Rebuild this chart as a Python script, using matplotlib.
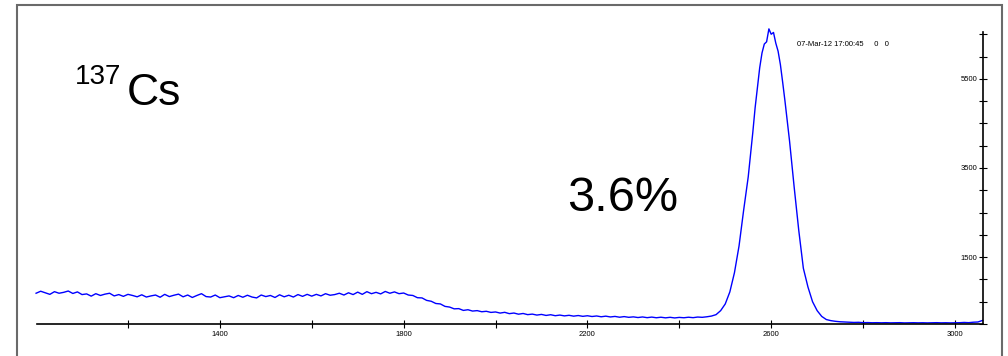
import numpy as np
import matplotlib
matplotlib.use("Agg")
import matplotlib.pyplot as plt
from matplotlib.patches import Rectangle

# channel (energy) axis: 10-unit steps, 5-unit steps across the peak top
channels_low = np.arange(1000, 2560, 10)
channels_peak = np.arange(2560, 2645, 5)
channels_high = np.arange(2650, 3061, 10)

counts_low = [
    # 1000-1100
    690, 735, 700, 665, 725, 690, 710, 740, 685, 720, 660,
    # 1110-1200
    675, 625, 680, 640, 670, 690, 630, 660, 620, 665,
    # 1210-1400
    640, 610, 655, 605, 630, 650, 600, 665, 615, 645, 670, 610, 650, 595, 640, 680, 615, 605, 650, 590,
    # 1410-1600
    610, 630, 590, 640, 600, 645, 605, 585, 650, 615, 640, 595, 655, 610, 645, 605, 660, 620, 665, 625,
    # 1610-1800
    665, 630, 680, 645, 660, 690, 650, 700, 660, 715, 665, 725, 680, 710, 675, 730, 690, 720, 680, 695,
    # 1810-2000
    650, 640, 590, 585, 530, 510, 460, 450, 395, 380, 340, 345, 305, 320, 290, 300, 275, 285, 260, 270,
    # 2010-2200
    245, 262, 232, 246, 220, 236, 210, 222, 200, 215, 192, 208, 186, 200, 182, 195, 176, 190, 172, 185,
    # 2210-2400
    168, 180, 162, 176, 158, 170, 152, 166, 150, 160, 145, 158, 142, 155, 140, 152, 138, 150, 136, 148,
    # 2410-2550
    140, 152, 142, 156, 150, 162, 178, 210, 300, 450, 720, 1150, 1750, 2550, 3300,
]

counts_peak = [
    # 2560-2640 (5-unit steps)
    4300, 4850, 5300, 5750, 6080, 6280, 6330, 6620, 6500, 6540, 6300, 6120, 5820, 5420, 5000, 4550, 4100,
]

counts_high = [
    # 2650-2750
    3070, 2100, 1250, 830, 500, 300, 170, 100, 75, 60, 50,
    # 2760-3060
    45, 40, 35, 38, 30, 32, 28, 30, 27, 30, 26, 28, 30, 25, 27, 29, 26, 28, 25, 27, 30, 26, 28, 25, 27, 29, 35, 30, 40, 45, 80,
]

channels = np.concatenate([channels_low, channels_peak, channels_high])
counts = counts_low + counts_peak + counts_high

x_major = [1400, 1800, 2200, 2600, 3000]
x_minor = [1200, 1600, 2000, 2400, 2800]
y_ticks = list(range(0, 6501, 500))
y_labeled = [1500, 3500, 5500]

W, H = 1008, 356
plt.rcParams['font.family'] = ['Liberation Sans', 'DejaVu Sans']
fig = plt.figure(figsize=(W / 100, H / 100), dpi=100)
fig.patch.set_facecolor("white")

# outer frame
fig.patches.append(Rectangle((17 / W, -0.05), (1002 - 17) / W, (H - 5) / H + 0.05,
                             transform=fig.transFigure, fill=False,
                             edgecolor="#6a6a6a", linewidth=1.5))

ax_left, ax_right = 37 / W, 983 / W
ax_bottom = (H - 324) / H
ax_top = (H - 32) / H
ax = fig.add_axes([ax_left, ax_bottom, ax_right - ax_left, ax_top - ax_bottom])
ax.set_facecolor("none")

ax.plot(channels, counts, color="#0000ff", linewidth=1.0, clip_on=False)

ax.set_xlim(1002, 3061)
ax.set_ylim(0, 6550)

for s in ["top", "right"]:
    ax.spines[s].set_visible(False)
ax.spines["left"].set_position(("axes", 1.0))
ax.spines["left"].set_linewidth(1.2)
ax.spines["bottom"].set_linewidth(1.2)

ax.set_xticks(x_major)
ax.set_xticks(x_minor, minor=True)
ax.set_xticklabels([str(v) for v in x_major])
ax.tick_params(axis="x", which="both", direction="inout", length=6, width=0.8,
               labelsize=5.5, pad=2)

ax.set_yticks(y_ticks)
ax.set_yticklabels([str(v) if v in y_labeled else "" for v in y_ticks])
ax.tick_params(axis="y", which="both", direction="inout", length=6, width=0.8,
               labelsize=5.5, pad=1)

fig.text(75 / W, 1 - 84 / H, "137", fontsize=20, color="black", ha="left", va="baseline")
fig.text(127 / W, 1 - 105 / H, "Cs", fontsize=32, color="black", ha="left", va="baseline")
fig.text(567 / W, 1 - 211 / H, "3.6%", fontsize=35, color="black", ha="left", va="baseline")
fig.text(797 / W, 1 - 44 / H, "07-Mar-12 17:00:45     0   0", fontsize=5.5,
         color="black", ha="left", va="center")

fig.savefig("out.png", dpi=100)
